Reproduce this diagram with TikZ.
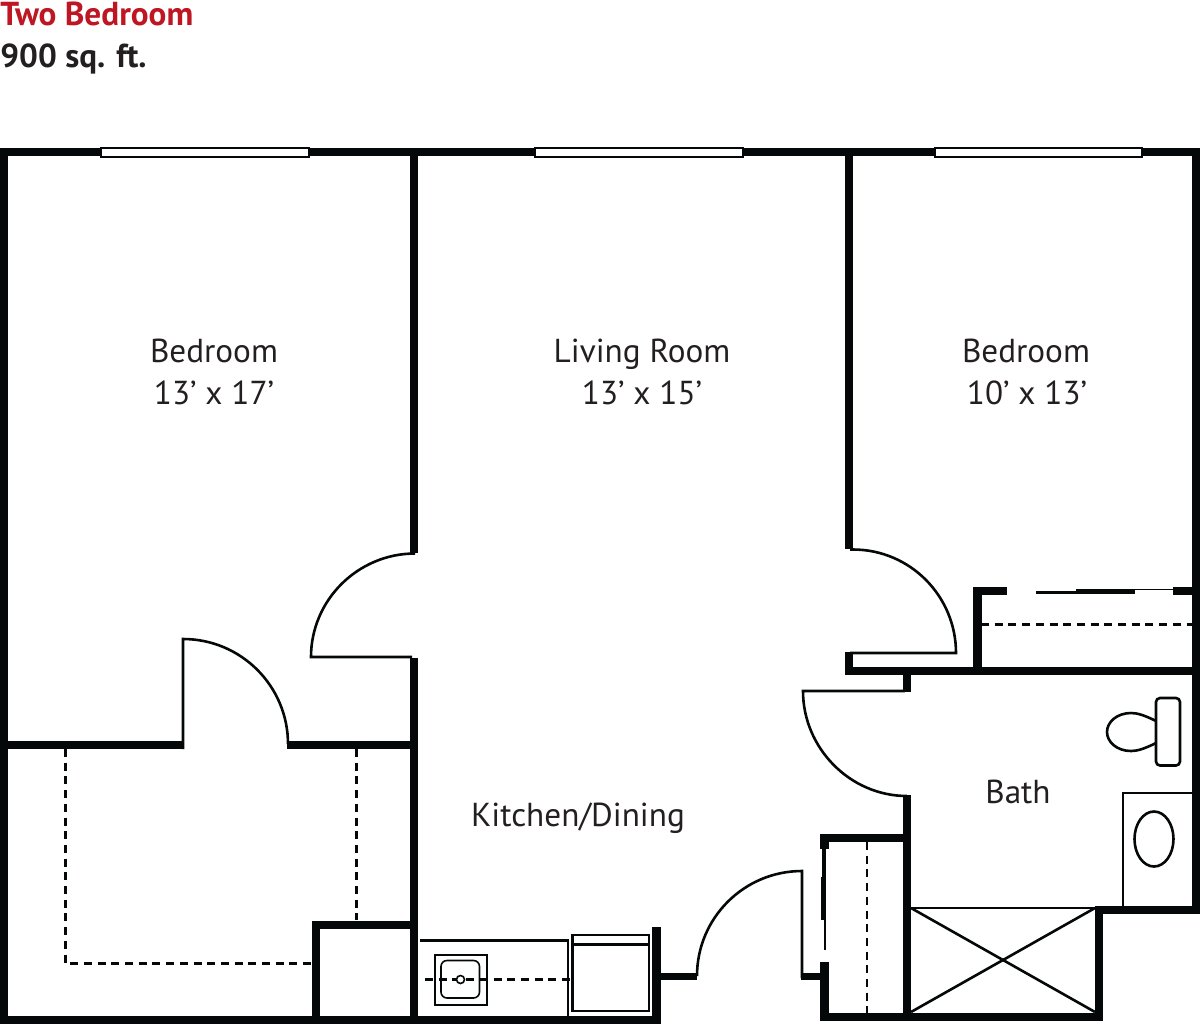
\documentclass[tikz,border=0pt]{standalone}
\usepackage{fontspec}
\setmainfont{PT Sans}
\definecolor{ink}{HTML}{050808}
\definecolor{titlered}{HTML}{BE1622}
\definecolor{txt}{HTML}{231F20}
\tikzset{
  wall/.style={fill=ink,draw=none},
  door/.style={draw=ink,line width=1.3pt,line join=miter},
  fine/.style={draw=ink,line width=1.1pt},
  hidden/.style={draw=ink,line width=1.3pt,dash pattern=on 4pt off 2.85pt},
  windowbox/.style={draw=ink,fill=white,line width=1pt},
  room/.style={anchor=base,inner sep=0pt,text=txt,font=\fontsize{16.6pt}{20pt}\selectfont},
  heading/.style={anchor=base west,inner sep=0pt,font=\fontsize{16.6pt}{20pt}\selectfont\bfseries}
}
\begin{document}
\begin{tikzpicture}[x=0.5pt,y=-0.5pt]
\useasboundingbox (0,0) rectangle (1200,1024);
% title
\node[heading,text=titlered] (title) at (0,25) {Two Bedroom};
\node[heading,text=txt] (area) at (0,67) {900 sq. ft.};
% outer walls
\fill[wall] (0,148) rectangle (1200,156);
\fill[wall] (0,148) rectangle (8,1024);
\fill[wall] (1192,148) rectangle (1200,914);
\fill[wall] (0,1016) rectangle (660,1024);
% partitions
\fill[wall] (410,148) rectangle (418,553);
\fill[wall] (410,658) rectangle (418,1024);
\fill[wall] (845,148) rectangle (853,549);
\fill[wall] (845,652) rectangle (853,675);
\fill[wall] (845,667) rectangle (1200,675);
% upper right closet
\fill[wall] (973,587) rectangle (981.5,675);
\fill[wall] (973,587) rectangle (1007,595);
\fill[wall] (1173,587) rectangle (1192,595);
\fill[wall] (1076,588.5) rectangle (1135,594);
\draw[fine] (1036,592.5) -- (1076,592.5);
\draw[fine,line width=0.9pt] (1135,589.5) -- (1173,589.5);
\draw[hidden] (981,624.5) -- (1192,624.5);
% bath walls
\fill[wall] (903,675) rectangle (911,692);
\fill[wall] (903,795) rectangle (911,1021);
% lower closet
\fill[wall] (820,834) rectangle (911,842);
\fill[wall] (820,834) rectangle (828.5,849);
\fill[wall] (822,849) rectangle (826,877);
\fill[wall] (821,877) rectangle (826,920);
\fill[wall] (824,920) rectangle (826,950);
\fill[wall] (820,961.5) rectangle (828.5,1021);
\fill[wall] (820,1013) rectangle (1103,1021);
\draw[hidden] (867,842) -- (867,1013);
% shaft
\fill[wall] (1095,906) rectangle (1103,1021);
\fill[wall] (1095,906) rectangle (1192,913.5);
\draw[fine,line width=1pt] (911,907.5) -- (1095,907.5);
\draw[door] (911,908) -- (1095,1012);
\draw[door] (911,1012) -- (1095,908);
% vanity and toilet
\draw[fine,line width=1pt] (1192,793) -- (1122.5,793) -- (1122.5,906);
\draw[door] (1154,839) ellipse [x radius=19.5,y radius=27.5];
\draw[door,rounded corners=2pt] (1156,698) rectangle (1180,765.5);
\draw[door] (1156,721) .. controls (1144,715) and (1137,713) .. (1131,713)
  .. controls (1117,713) and (1107,722) .. (1107,732)
  .. controls (1107,742) and (1117,751) .. (1131,751)
  .. controls (1137,751) and (1144,749) .. (1156,743);
% left room
\fill[wall] (0,741) rectangle (182.5,749);
\fill[wall] (287,741) rectangle (410,749);
\draw[door] (183,749) -- (183,639) .. controls (241,639) and (288,686) .. (288,744);
\draw[hidden] (65.5,749) -- (65.5,963.5) -- (312,963.5);
\draw[hidden] (356.5,749) -- (356.5,920);
\fill[wall] (312,920.5) rectangle (320,1024);
\fill[wall] (312,920.5) rectangle (410,929);
% other doors
\draw[door] (412,553.5) -- (415,553.5) .. controls (358,553.5) and (311,600) .. (311,657) -- (412,657);
\draw[door] (850,549.5) -- (853,549.5) .. controls (910,549.5) and (956,596) .. (956,653) -- (850,653);
\draw[door] (905,691) -- (803,691) .. controls (803,748) and (850,796) .. (907,796);
% entry
\fill[wall] (652,927) rectangle (660.5,1024);
\fill[wall] (660,972.5) rectangle (697,980);
\fill[wall] (801,973) rectangle (822,980);
\draw[door] (697,976) .. controls (697,918) and (744,871) .. (802,871) -- (802,978);
% kitchen
\draw[door,line width=1.5pt] (420,940) -- (568,940);
\draw[door] (568,939) -- (568,1016);
\draw[hidden] (425,979.5) -- (571,979.5);
\draw[fine,line width=1pt] (435,955) rectangle (486.5,1005);
\draw[fine,line width=0.8pt,rounded corners=3pt] (441,960.5) rectangle (479.5,998);
\draw[fine,line width=0.8pt,fill=white] (460.5,979.5) circle [radius=4];
\draw[door] (572.5,935) rectangle (649,1011);
\draw[door] (572.5,944.5) -- (649,944.5);
% windows
\draw[windowbox] (101,147.5) rectangle (309,157);
\draw[windowbox] (535,147.5) rectangle (743,157);
\draw[windowbox] (935,147.5) rectangle (1142,157);
% labels
\node[room] (bedroomA) at (214,362) {Bedroom};
\node[room] (sizeA) at (214,404) {13’ x 17’};
\node[room] (living) at (642,362) {Living Room};
\node[room] (sizeL) at (642,404) {13’ x 15’};
\node[room] (bedroomB) at (1026,362) {Bedroom};
\node[room] (sizeB) at (1027,404) {10’ x 13’};
\node[room] (bath) at (1018,803) {Bath};
\node[room] (kitchen) at (578,826) {Kitchen/Dining};
\end{tikzpicture}
\end{document}
